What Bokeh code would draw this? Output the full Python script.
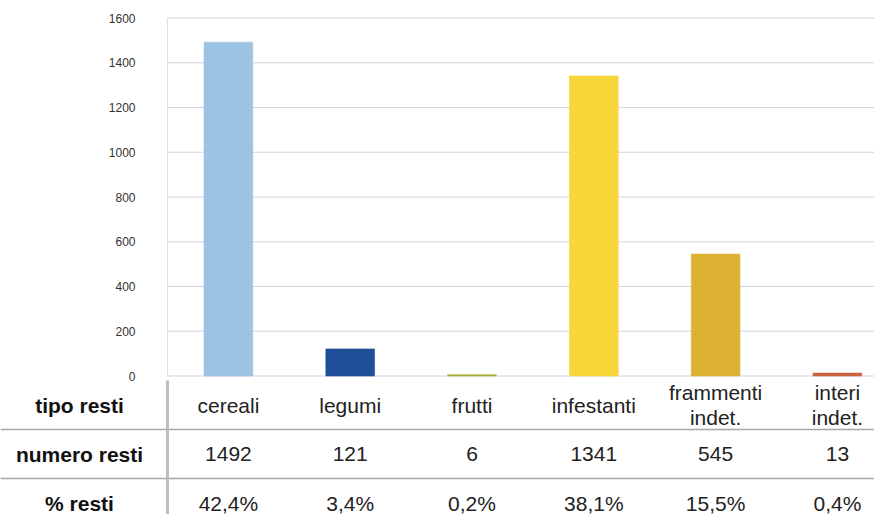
from bokeh.plotting import figure
from bokeh.models import Range1d, ColumnDataSource
from bokeh.core.properties import value
from bokeh.embed import file_html
from bokeh.resources import INLINE

categories = ["cereali", "legumi", "frutti", "infestanti", "frammenti\nindet.", "interi\nindet."]
counts = [1492, 121, 6, 1341, 545, 13]
percents = ["42,4%", "3,4%", "0,2%", "38,1%", "15,5%", "0,4%"]
colors = ["#9dc3e3", "#1f4f98", "#a8b040", "#f7d63a", "#ddb232", "#c8643c"]
row_labels = ["tipo resti", "numero resti", "% resti"]
y_ticks = [0, 200, 400, 600, 800, 1000, 1200, 1400, 1600]

# layout geometry (pixels in the figure)
W, H = 874, 514
FRAME_LEFT = 167.0
PX_PER_CAT = 121.8
CHART_TOP, CHART_BOT = 17.5, 375.5   # pixel rows of 1600 and 0
ROW0, ROW_PX = 404.5, 49.0           # table rows

x_start = -0.5 - FRAME_LEFT / PX_PER_CAT
x_end = x_start + W / PX_PER_CAT
px_per_val = (CHART_BOT - CHART_TOP) / 1600.0
y_lo = -(H - CHART_BOT) / px_per_val
y_hi = 1600 + CHART_TOP / px_per_val
t_top = -ROW0 / ROW_PX
t_bot = (H - ROW0) / ROW_PX

FONT = "Liberation Sans"
xs = list(range(len(categories)))

p = figure(width=W, height=H, output_backend="svg", toolbar_location=None,
           x_range=Range1d(x_start, x_end), y_range=Range1d(y_lo, y_hi),
           min_border=0)
p.extra_y_ranges = {"table": Range1d(t_bot, t_top)}
p.outline_line_color = None
p.axis.visible = False
p.grid.visible = False

# chart gridlines and y-axis line
chart_left = -0.5
p.segment(x0=[chart_left] * len(y_ticks), x1=[x_end] * len(y_ticks),
          y0=y_ticks, y1=y_ticks, line_color="#d3d3e3", line_width=1)
p.segment(x0=[chart_left], x1=[chart_left], y0=[0], y1=[max(y_ticks)],
          line_color="#e0e0ea", line_width=1)

# y tick labels
p.text(x=[chart_left - 32 / PX_PER_CAT] * len(y_ticks), y=y_ticks,
       text=[str(t) for t in y_ticks], text_font=value(FONT), text_font_size="12px",
       text_align="right", text_baseline="middle", text_color="#333333")

# bars
src = ColumnDataSource(dict(x=xs, top=counts, color=colors))
p.vbar(x="x", top="top", width=0.4, bottom=0, fill_color="color",
       line_color="color", line_alpha=0.6, source=src)

# table separators
p.segment(x0=[x_start, x_start], x1=[x_end, x_end], y0=[0.5, 1.5], y1=[0.5, 1.5],
          line_color="#a6a6a6", line_width=1.5, y_range_name="table")
p.segment(x0=[chart_left], x1=[chart_left], y0=[-0.5], y1=[t_bot],
          line_color="#bdbdbd", line_width=3, y_range_name="table")

# table texts
label_x = chart_left - 88 / PX_PER_CAT
p.text(x=[label_x] * 3, y=[0, 1, 2], text=row_labels, text_font=value(FONT),
       text_font_style="bold", text_font_size="21px", text_align="center",
       text_baseline="middle", text_color="#111111", y_range_name="table")

p.text(x=xs, y=[0] * len(xs), text=categories, text_font=value(FONT),
       text_font_size="21px", text_align="center", text_baseline="middle",
       text_color="#222222", text_line_height=1.1, y_range_name="table")
p.text(x=xs, y=[1] * len(xs), text=[str(c) for c in counts], text_font=value(FONT),
       text_font_size="21px", text_align="center", text_baseline="middle",
       text_color="#222222", y_range_name="table")
p.text(x=xs, y=[2] * len(xs), text=percents, text_font=value(FONT),
       text_font_size="21px", text_align="center", text_baseline="middle",
       text_color="#222222", y_range_name="table")

open("out.html", "w").write(file_html(p, INLINE))
